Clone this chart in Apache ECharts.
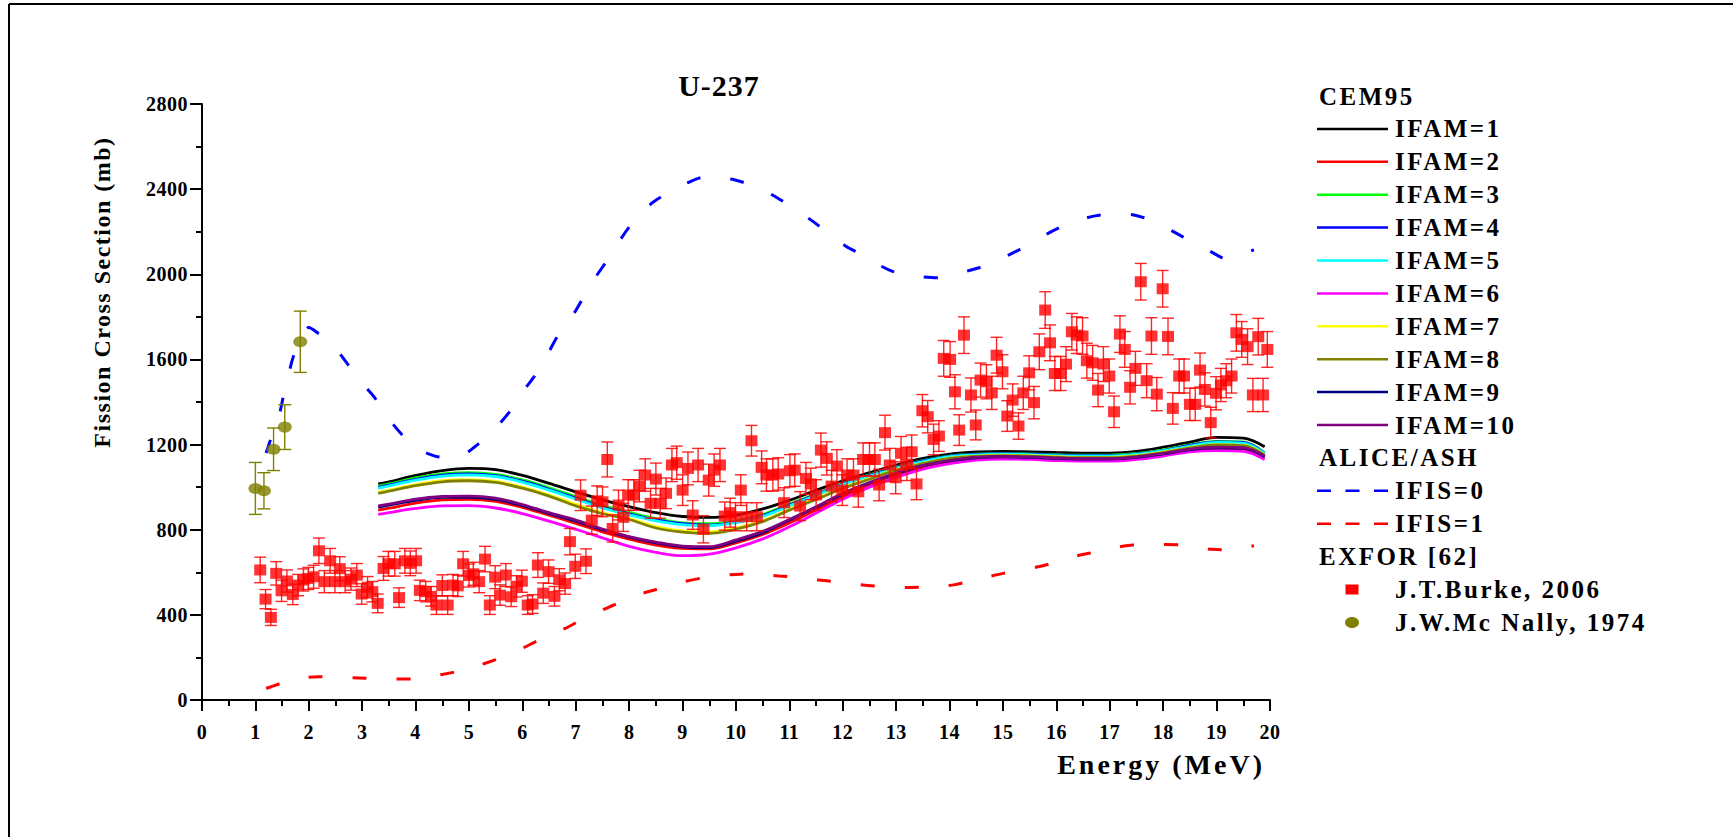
<!DOCTYPE html>
<html>
<head>
<meta charset="utf-8">
<script src="https://cdn.jsdelivr.net/npm/echarts@6/dist/echarts.min.js"></script>
<style>
  html, body { margin: 0; padding: 0; background: #ffffff; }
  #chart { width: 1733px; height: 837px; }
</style>
</head>
<body>
<div id="chart"></div>
<script>
// ---------- data ----------
// CEM95 calculations (energy grid in MeV, cross sections in mb)
const cemEnergy = [3.3, 3.5, 4.0, 4.5, 5.0, 5.5, 6.0, 6.5, 7.0, 7.5, 8.0, 8.5, 9.0, 9.5, 10.0, 10.5, 11.0, 11.5, 12.0, 12.5, 13.0, 13.5, 14.0, 14.5, 15.0, 15.5, 16.0, 16.5, 17.0, 17.5, 18.0, 18.5, 19.0, 19.5, 19.9];
const ifam1  = [1015, 1025, 1055, 1078, 1088, 1082, 1055, 1018, 978, 940, 908, 880, 862, 858, 869, 898, 938, 985, 1030, 1068, 1104, 1135, 1155, 1165, 1168, 1166, 1163, 1160, 1160, 1168, 1188, 1212, 1234, 1230, 1190];
const ifam2  = [892, 901, 925, 940, 943, 933, 905, 868, 830, 790, 756, 728, 712, 710, 738, 778, 832, 893, 955, 1008, 1050, 1090, 1117, 1133, 1137, 1135, 1130, 1128, 1128, 1136, 1152, 1172, 1180, 1177, 1140];
const ifam3  = [1005, 1015, 1043, 1062, 1068, 1060, 1034, 997, 955, 913, 882, 852, 832, 828, 842, 872, 920, 968, 1017, 1058, 1095, 1125, 1146, 1155, 1158, 1156, 1152, 1150, 1150, 1158, 1175, 1198, 1215, 1212, 1160];
const ifam4  = [999, 1010, 1037, 1056, 1062, 1054, 1028, 990, 948, 906, 875, 846, 828, 822, 836, 866, 916, 965, 1015, 1055, 1093, 1123, 1145, 1154, 1157, 1155, 1150, 1148, 1148, 1156, 1172, 1196, 1213, 1210, 1159];
const ifam5  = [995, 1006, 1033, 1052, 1058, 1050, 1024, 986, 944, 902, 870, 842, 824, 819, 833, 863, 912, 962, 1012, 1052, 1090, 1120, 1143, 1152, 1155, 1153, 1148, 1146, 1146, 1154, 1170, 1193, 1210, 1207, 1157];
const ifam6  = [872, 880, 900, 912, 913, 902, 876, 840, 802, 762, 722, 694, 678, 685, 715, 757, 814, 878, 943, 1000, 1046, 1085, 1111, 1127, 1132, 1130, 1125, 1122, 1122, 1130, 1146, 1166, 1172, 1168, 1130];
const ifam7  = [976, 986, 1012, 1030, 1035, 1027, 1000, 963, 920, 880, 852, 815, 795, 790, 808, 843, 896, 946, 998, 1040, 1082, 1112, 1136, 1146, 1150, 1148, 1143, 1140, 1140, 1148, 1164, 1186, 1200, 1197, 1152];
const ifam8  = [971, 981, 1007, 1025, 1030, 1022, 995, 958, 912, 875, 848, 808, 789, 783, 803, 838, 892, 942, 994, 1037, 1080, 1110, 1135, 1145, 1148, 1146, 1141, 1138, 1138, 1146, 1162, 1184, 1198, 1195, 1150];
const ifam9  = [906, 915, 938, 952, 952, 942, 913, 876, 840, 800, 765, 738, 720, 716, 746, 786, 845, 905, 968, 1020, 1063, 1100, 1123, 1138, 1142, 1140, 1135, 1132, 1132, 1140, 1156, 1176, 1185, 1182, 1143];
const ifam10 = [912, 920, 944, 956, 958, 948, 918, 880, 845, 803, 768, 742, 723, 720, 752, 792, 848, 908, 971, 1022, 1066, 1102, 1125, 1140, 1144, 1142, 1137, 1134, 1134, 1142, 1158, 1178, 1188, 1185, 1146];

// ALICE/ASH calculations
const ifis0Energy = [1.2, 1.27, 1.34, 1.43, 1.49, 1.54, 1.6, 1.65, 1.71, 1.85, 2.0, 2.18, 2.43, 2.75, 3.07, 3.23, 3.38, 3.54, 3.75, 3.96, 4.22, 4.5, 4.86, 5.11, 5.45, 5.77, 5.92, 6.07, 6.22, 6.45, 6.67, 6.83, 7.0, 7.3, 7.6, 8.0, 8.43, 8.74, 9.05, 9.36, 9.63, 9.95, 10.24, 10.49, 10.8, 11.16, 11.42, 11.75, 12.05, 12.32, 12.63, 12.93, 13.22, 13.5, 13.8, 14.05, 14.4, 14.74, 15.0, 15.3, 15.63, 15.87, 16.2, 16.56, 16.8, 17.1, 17.43, 17.7, 18.0, 18.31, 18.57, 18.9, 19.19, 19.49, 19.7];
const ifis0XS = [1160, 1213, 1268, 1323, 1386, 1448, 1495, 1558, 1612, 1700, 1750, 1722, 1675, 1570, 1469, 1422, 1357, 1307, 1245, 1190, 1159, 1140, 1148, 1190, 1265, 1357, 1409, 1469, 1519, 1615, 1714, 1769, 1830, 1960, 2070, 2222, 2335, 2385, 2425, 2455, 2458, 2445, 2423, 2398, 2355, 2297, 2252, 2190, 2133, 2097, 2050, 2014, 1996, 1988, 1984, 1996, 2020, 2046, 2077, 2115, 2159, 2196, 2235, 2265, 2277, 2285, 2280, 2260, 2225, 2184, 2147, 2105, 2072, 2097, 2115];
const ifis1Energy = [1.2, 1.27, 1.51, 1.8, 2.18, 2.43, 3.07, 3.32, 3.96, 4.21, 4.5, 4.86, 5.11, 5.5, 5.77, 6.0, 6.3, 6.67, 6.9, 7.2, 7.57, 7.81, 8.1, 8.47, 8.71, 9.0, 9.38, 9.61, 10.0, 10.26, 10.51, 10.8, 11.16, 11.4, 11.7, 12.06, 12.31, 12.6, 12.96, 13.21, 13.5, 13.87, 14.1, 14.4, 14.74, 15.0, 15.3, 15.66, 15.91, 16.2, 16.54, 16.8, 17.1, 17.44, 17.7, 18.0, 18.35, 18.6, 18.9, 19.25, 19.5, 19.7];
const ifis1XS = [55, 60, 81, 100, 109, 107, 102, 99, 99, 107, 120, 138, 156, 190, 216, 243, 280, 321, 349, 390, 431, 457, 490, 517, 535, 555, 574, 582, 590, 592, 589, 583, 576, 568, 560, 551, 542, 535, 529, 529, 530, 535, 542, 560, 580, 595, 610, 626, 642, 665, 686, 697, 715, 728, 728, 730, 728, 717, 708, 705, 715, 725];

// EXFOR: J.T.Burke, 2006
const burkeEnergy = [1.09, 1.19, 1.29, 1.39, 1.49, 1.59, 1.70, 1.80, 1.90, 1.99, 2.09, 2.19, 2.29, 2.40, 2.49, 2.58, 2.68, 2.79, 2.90, 2.99, 3.10, 3.19, 3.29, 3.40, 3.49, 3.61, 3.69, 3.80, 3.90, 4.01, 4.08, 4.19, 4.29, 4.39, 4.50, 4.60, 4.70, 4.79, 4.89, 5.00, 5.08, 5.19, 5.30, 5.39, 5.49, 5.58, 5.69, 5.79, 5.89, 5.99, 6.10, 6.19, 6.29, 6.39, 6.49, 6.60, 6.69, 6.80, 6.89, 6.99, 7.09, 7.19, 7.30, 7.40, 7.50, 7.59, 7.69, 7.80, 7.89, 7.98, 8.09, 8.19, 8.30, 8.40, 8.50, 8.58, 8.69, 8.80, 8.89, 9.00, 9.10, 9.19, 9.29, 9.39, 9.49, 9.59, 9.70, 9.79, 9.89, 9.99, 10.09, 10.20, 10.29, 10.39, 10.48, 10.57, 10.69, 10.79, 10.90, 11.01, 11.10, 11.20, 11.31, 11.40, 11.50, 11.59, 11.70, 11.79, 11.89, 11.99, 12.08, 12.20, 12.29, 12.38, 12.50, 12.60, 12.68, 12.79, 12.88, 12.99, 13.09, 13.20, 13.29, 13.38, 13.49, 13.59, 13.70, 13.80, 13.89, 14.01, 14.10, 14.18, 14.27, 14.40, 14.49, 14.58, 14.69, 14.79, 14.88, 14.99, 15.08, 15.18, 15.29, 15.38, 15.49, 15.58, 15.68, 15.79, 15.88, 15.97, 16.08, 16.18, 16.29, 16.38, 16.49, 16.57, 16.68, 16.78, 16.88, 16.99, 17.08, 17.19, 17.28, 17.38, 17.48, 17.58, 17.69, 17.78, 17.88, 17.99, 18.09, 18.18, 18.30, 18.39, 18.50, 18.60, 18.69, 18.78, 18.89, 18.99, 19.08, 19.18, 19.28, 19.37, 19.47, 19.58, 19.68, 19.78, 19.87, 19.95];
const burkeXS = [611, 474, 388, 595, 513, 559, 496, 540, 564, 571, 579, 701, 556, 654, 556, 617, 556, 568, 587, 498, 530, 509, 454, 618, 640, 640, 481, 654, 642, 654, 515, 509, 487, 446, 538, 446, 540, 536, 640, 585, 593, 556, 662, 446, 577, 493, 587, 485, 534, 558, 446, 451, 634, 502, 603, 487, 565, 547, 744, 628, 962, 652, 845, 936, 931, 1130, 806, 916, 858, 963, 963, 1005, 1057, 924, 1038, 924, 971, 1104, 1115, 986, 1088, 869, 1104, 802, 1033, 1080, 1104, 864, 880, 861, 986, 861, 1218, 861, 1093, 1057, 1057, 1062, 927, 1077, 1080, 911, 1041, 1015, 963, 1174, 1135, 1005, 1099, 986, 1057, 1057, 978, 1130, 1130, 1130, 1010, 1256, 1104, 1044, 1159, 1109, 1166, 1015, 1359, 1331, 1224, 1240, 1605, 1600, 1448, 1268, 1714, 1433, 1292, 1503, 1495, 1443, 1620, 1542, 1334, 1409, 1287, 1443, 1537, 1397, 1636, 1832, 1678, 1534, 1534, 1578, 1730, 1714, 1710, 1594, 1584, 1456, 1578, 1522, 1354, 1719, 1647, 1469, 1558, 1965, 1500, 1710, 1437, 1932, 1708, 1370, 1522, 1522, 1389, 1389, 1550, 1459, 1303, 1441, 1480, 1500, 1522, 1725, 1694, 1660, 1433, 1707, 1433, 1647];
const burkeErr = [60, 45, 38, 55, 50, 52, 48, 50, 52, 52, 54, 60, 52, 58, 52, 56, 52, 52, 54, 48, 50, 48, 44, 56, 58, 58, 46, 58, 58, 58, 48, 48, 46, 44, 50, 44, 50, 50, 58, 54, 54, 52, 60, 44, 54, 48, 54, 46, 50, 52, 44, 44, 58, 48, 55, 46, 52, 50, 62, 57, 72, 58, 66, 70, 70, 82, 64, 70, 66, 72, 72, 74, 76, 70, 75, 70, 72, 78, 78, 72, 77, 67, 78, 64, 75, 76, 78, 66, 68, 66, 72, 66, 72, 66, 77, 76, 76, 76, 70, 76, 76, 68, 75, 74, 72, 80, 78, 74, 77, 72, 76, 76, 72, 78, 78, 78, 74, 82, 78, 75, 79, 78, 79, 74, 76, 76, 72, 72, 84, 84, 80, 72, 86, 80, 70, 80, 80, 78, 84, 80, 72, 76, 62, 78, 80, 76, 84, 86, 84, 80, 80, 82, 86, 86, 86, 82, 82, 78, 82, 80, 74, 86, 84, 78, 80, 86, 80, 86, 78, 86, 86, 74, 80, 80, 76, 76, 80, 78, 72, 78, 78, 80, 80, 86, 84, 84, 78, 86, 78, 84];

// EXFOR: J.W.Mc Nally, 1974
const mcnallyEnergy = [1.0, 1.16, 1.34, 1.55, 1.84];
const mcnallyXS = [994, 983, 1178, 1282, 1683];
const mcnallyErr = [122, 85, 100, 105, 144];

// axis ranges
const xMin = 0, xMax = 20, xStep = 1;
const yMin = 0, yMax = 2800, yStep = 400;

// ---------- helpers ----------
const zip = (xs, ys) => xs.map((x, i) => [x, ys[i]]);
const zip3 = (xs, ys, es) => xs.map((x, i) => [x, ys[i], es[i]]);
const FONT = 'Liberation Serif';

function errorBars(color, capHalf) {
  return function (params, api) {
    const x = api.value(0), y = api.value(1), e = api.value(2);
    const hi = api.coord([x, y + e]);
    const lo = api.coord([x, y - e]);
    const style = { stroke: color, lineWidth: 1.4, fill: null };
    return {
      type: 'group',
      children: [
        { type: 'line', shape: { x1: hi[0], y1: hi[1], x2: lo[0], y2: lo[1] }, style },
        { type: 'line', shape: { x1: hi[0] - capHalf, y1: hi[1], x2: hi[0] + capHalf, y2: hi[1] }, style },
        { type: 'line', shape: { x1: lo[0] - capHalf, y1: lo[1], x2: lo[0] + capHalf, y2: lo[1] }, style }
      ]
    };
  };
}

const cemSeries = [
  ['IFAM=1', ifam1, '#000000'],
  ['IFAM=2', ifam2, '#ff0000'],
  ['IFAM=3', ifam3, '#00ff00'],
  ['IFAM=4', ifam4, '#0000ff'],
  ['IFAM=5', ifam5, '#00ffff'],
  ['IFAM=6', ifam6, '#ff00ff'],
  ['IFAM=7', ifam7, '#ffff00'],
  ['IFAM=8', ifam8, '#808000'],
  ['IFAM=9', ifam9, '#000080'],
  ['IFAM=10', ifam10, '#800080']
];

const series = [];
series.push({
  name: 'IFIS=0', type: 'line', data: zip(ifis0Energy, ifis0XS), symbol: 'none', smooth: 0.3,
  lineStyle: { color: '#0000ff', width: 3, type: [14, 30] }, z: 2, silent: true
});
series.push({
  name: 'IFIS=1', type: 'line', data: zip(ifis1Energy, ifis1XS), symbol: 'none', smooth: 0.3,
  lineStyle: { color: '#ff0000', width: 3, type: [14, 30] }, z: 2, silent: true
});
cemSeries.forEach(([name, ys, color]) => {
  series.push({
    name, type: 'line', data: zip(cemEnergy, ys), symbol: 'none', smooth: 0.35,
    lineStyle: { color, width: 2.8 }, z: 3, silent: true
  });
});
series.push({
  name: 'burkeErr', type: 'custom', data: zip3(burkeEnergy, burkeXS, burkeErr),
  renderItem: errorBars('rgba(255,0,0,0.85)', 6), encode: { x: 0, y: 1 }, z: 4, silent: true, clip: false
});
series.push({
  name: 'J.T.Burke, 2006', type: 'scatter', data: zip(burkeEnergy, burkeXS),
  symbol: 'rect', symbolSize: [12, 11], itemStyle: { color: '#ff0000' }, z: 5, silent: true
});
series.push({
  name: 'mcnallyErr', type: 'custom', data: zip3(mcnallyEnergy, mcnallyXS, mcnallyErr),
  renderItem: errorBars('#808000', 6.5), encode: { x: 0, y: 1 }, z: 4, silent: true, clip: false
});
series.push({
  name: 'J.W.Mc Nally, 1974', type: 'scatter', data: zip(mcnallyEnergy, mcnallyXS),
  symbol: 'circle', symbolSize: [14, 11], itemStyle: { color: '#808000' }, z: 5, silent: true
});

// ---------- text helper ----------
function txt(text, size, align) {
  return { text, fontSize: size, fontWeight: 'bold', fontFamily: FONT, fill: '#000', align: align || 'left', verticalAlign: 'middle' };
}

// ---------- legend (drawn as graphic rows) ----------
const legendRows = [
  { text: 'CEM95', kind: 'header' },
  ...cemSeries.map(([name, , color]) => ({ text: name, kind: 'line', color })),
  { text: 'ALICE/ASH', kind: 'header' },
  { text: 'IFIS=0', kind: 'dash', color: '#0000ff' },
  { text: 'IFIS=1', kind: 'dash', color: '#ff0000' },
  { text: 'EXFOR [62]', kind: 'header' },
  { text: 'J.T.Burke, 2006', kind: 'square', color: '#ff0000' },
  { text: 'J.W.Mc Nally, 1974', kind: 'ellipse', color: '#808000' }
];
const legTop = 96, legStep = 32.9, legX0 = 1317, legX1 = 1388, legText = 1395, legHeader = 1319, legSym = 1352;
const legendGraphics = [];
legendRows.forEach((row, i) => {
  const y = legTop + i * legStep;
  if (row.kind === 'header') {
    legendGraphics.push({ type: 'text', x: legHeader, y, style: txt(row.text, 25) });
    return;
  }
  if (row.kind === 'line') {
    legendGraphics.push({ type: 'line', shape: { x1: legX0, y1: y, x2: legX1, y2: y }, style: { stroke: row.color, lineWidth: 2.5 } });
  } else if (row.kind === 'dash') {
    legendGraphics.push({ type: 'line', shape: { x1: legX0, y1: y, x2: legX1, y2: y }, style: { stroke: row.color, lineWidth: 2.5, lineDash: [14, 14.5] } });
  } else if (row.kind === 'square') {
    legendGraphics.push({ type: 'rect', shape: { x: legSym - 6.5, y: y - 5, width: 13, height: 10 }, style: { fill: row.color } });
  } else if (row.kind === 'ellipse') {
    legendGraphics.push({ type: 'ellipse', shape: { cx: legSym, cy: y, rx: 7, ry: 5.5 }, style: { fill: row.color } });
  }
  legendGraphics.push({ type: 'text', x: legText, y, style: txt(row.text, 25) });
});

// ---------- chart ----------
const axisFont = { color: '#000', fontSize: 20, fontWeight: 'bold', fontFamily: FONT };
const chart = echarts.init(document.getElementById('chart'), null, { renderer: 'svg', width: 1733, height: 837 });
chart.setOption({
  animation: false,
  backgroundColor: '#ffffff',
  grid: { left: 202, right: 463, top: 104, bottom: 137, containLabel: false },
  xAxis: {
    type: 'value', min: xMin, max: xMax, interval: xStep,
    axisLine: { show: true, onZero: false, lineStyle: { color: '#000', width: 2 } },
    axisTick: { show: true, inside: false, length: 11, lineStyle: { color: '#000', width: 2 } },
    minorTick: { show: true, splitNumber: 2, length: 6, lineStyle: { color: '#000', width: 2 } },
    splitLine: { show: false },
    axisLabel: Object.assign({ margin: 22, formatter: v => String(v) }, axisFont)
  },
  yAxis: {
    type: 'value', min: yMin, max: yMax, interval: yStep,
    axisLine: { show: true, onZero: false, lineStyle: { color: '#000', width: 2 } },
    axisTick: { show: true, inside: false, length: 12, lineStyle: { color: '#000', width: 2 } },
    minorTick: { show: true, splitNumber: 2, length: 6, lineStyle: { color: '#000', width: 2 } },
    splitLine: { show: false },
    axisLabel: Object.assign({ margin: 14, formatter: v => String(v) }, axisFont)
  },
  series,
  graphic: [
    // figure frame (top and left edges)
    { type: 'line', shape: { x1: 9, y1: 4, x2: 1733, y2: 4 }, style: { stroke: '#000', lineWidth: 2 } },
    { type: 'line', shape: { x1: 9, y1: 4, x2: 9, y2: 837 }, style: { stroke: '#000', lineWidth: 2 } },
    // title
    { type: 'text', x: 719, y: 85, style: txt('U-237', 30, 'center') },
    // axis names
    { type: 'text', x: 102, y: 292, rotation: Math.PI / 2, style: txt('Fission Cross Section (mb)', 24, 'center') },
    { type: 'text', x: 1265, y: 764, style: txt('Energy (MeV)', 28, 'right') },
    ...legendGraphics
  ]
});

// character spacing per text size
function applySpacing() {
  const spacing = { 20: '0.5px', 24: '1.5px', 25: '2.5px', 28: '3px', 30: '1px' };
  document.querySelectorAll('#chart svg text').forEach(el => {
    const size = Math.round(parseFloat(getComputedStyle(el).fontSize));
    if (spacing[size]) el.style.letterSpacing = spacing[size];
  });
}
chart.on('finished', applySpacing);
setTimeout(applySpacing, 50);
</script>
</body>
</html>
